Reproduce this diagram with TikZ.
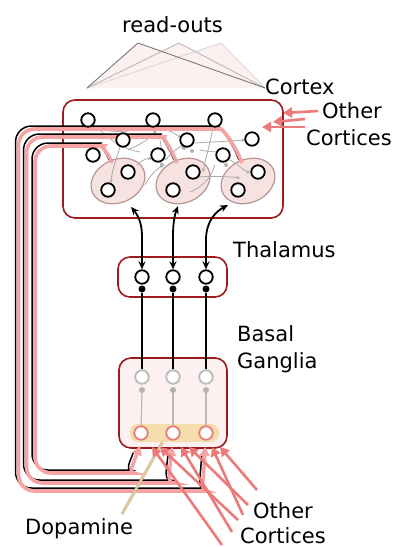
\documentclass[tikz,border=0pt]{standalone}
\usepackage{fontspec}
\setmainfont{DejaVu Sans}
\usetikzlibrary{arrows.meta,shapes.geometric}
\definecolor{dred}{HTML}{9E1B1B}
\definecolor{lpink}{HTML}{F5A3A3}
\definecolor{salm}{HTML}{EC7A7A}
\definecolor{ellf}{HTML}{F6E2E0}
\definecolor{elld}{HTML}{B89494}
\definecolor{bgf}{HTML}{FCF0F0}
\definecolor{dopa}{HTML}{F6DDAE}
\definecolor{dopal}{HTML}{EBCB90}
\definecolor{rofill}{HTML}{FCF1F0}
\begin{document}
\begin{tikzpicture}[x=1pt,y=-1pt,
 neuron/.style={circle,draw=black,line width=1.8pt,fill=white,minimum size=13.5pt,inner sep=0pt},
 gneuron/.style={neuron,draw=gray!55},
 sneuron/.style={neuron,draw=salm},
 sdot/.style={circle,fill=black,minimum size=7pt,inner sep=0pt},
 gdot/.style={circle,fill=gray!60,minimum size=6pt,inner sep=0pt},
 smalldot/.style={circle,fill=gray!60,minimum size=4pt,inner sep=0pt},
 region/.style={rectangle,draw=dred,line width=1.6pt,rounded corners=12pt,inner sep=0pt},
 lbl/.style={font=\fontsize{21}{24}\selectfont,inner sep=0pt,anchor=base west},
 blk/.style={black,line width=1.5pt,rounded corners=16pt},
 pnk/.style={lpink,line width=3.6pt,rounded corners=16pt},
 gconn/.style={gray!65,line width=0.8pt,-{Stealth[length=3.5pt,width=3.5pt]}},
 gline/.style={gray!65,line width=0.8pt},
 clus/.style={ellipse,draw=elld,line width=1.2pt,fill=ellf,minimum width=56pt,minimum height=43pt,inner sep=0pt},
 oc/.style={salm,line width=2.6pt,-{Triangle[length=9pt,width=10pt]}},
 looparr/.style={-{Triangle[length=9pt,width=10pt]}},
 tarr/.style={black,line width=1.8pt,{Stealth[length=8pt,width=7pt]}-{Stealth[length=8pt,width=7pt]}},
]
\fill[white] (0,0) rectangle (395,547);
\useasboundingbox (0,0) rectangle (395,547);

% read-outs
\coordinate (ro) at (87,88);
\coordinate (cx) at (265,88);
\coordinate (ap1) at (138,43);
\coordinate (ap2) at (179,43);
\coordinate (ap3) at (221,43);
\fill[rofill] (ro) -- (ap1) -- (cx) -- cycle;
\fill[rofill] (ro) -- (ap2) -- (cx) -- cycle;
\fill[rofill] (ro) -- (ap3) -- (cx) -- cycle;
\draw[gray!30,line width=0.9pt] (ro) -- (ap3) -- (cx);
\draw[gray!55,line width=0.9pt] (ro) -- (ap2) -- (cx);
\draw[gray!95!black,line width=0.9pt] (ro) -- (ap1) -- (cx);

% labels
\node[lbl] (lro) at (122,32) {read-outs};
\node[lbl] (lcx) at (265,94) {Cortex};
\node[lbl] (loc1) at (322,118) {Other};
\node[lbl] (loc2) at (306,145) {Cortices};
\node[lbl] (lth) at (233,257) {Thalamus};
\node[lbl] (lbg1) at (237,341) {Basal};
\node[lbl] (lbg2) at (237,368) {Ganglia};
\node[lbl] (ldp) at (25,534) {Dopamine};
\node[lbl] (loc3) at (253,518) {Other};
\node[lbl] (loc4) at (240,543) {Cortices};

% regions
\node[region,fill=white,minimum width=220pt,minimum height=118pt] (ctx) at (173,159) {};
\node[region,fill=white,minimum width=109pt,minimum height=40pt] (thal) at (172.5,277) {};
\node[region,fill=bgf,minimum width=108pt,minimum height=90pt] (bg) at (173,403) {};
\node[rectangle,rounded corners=8pt,fill=dopa,minimum width=89pt,minimum height=18pt,inner sep=0pt] (db) at (174.5,433) {};

% clusters
\node[clus,rotate=25] (e1) at (118,181) {};
\node[clus,rotate=25] (e2) at (183,181) {};
\node[clus,rotate=25] (e3) at (248,181) {};

% gray intra-cortical connections
\draw[gconn] (96,127) .. controls (110,134) and (135,132) .. (148,125);
\draw[gconn] (120,147) .. controls (116,160) and (112,170) .. (111,183);
\draw[gconn] (137,165) .. controls (142,160) and (147,158) .. (152,159);
\draw[gconn] (128,150) .. controls (136,146) and (150,140) .. (156,130);
\draw[gconn] (160,127) .. controls (168,130) and (176,134) .. (181,138);
\draw[gconn] (195,143) .. controls (212,142) and (232,141) .. (245,140);
\draw[gconn] (213,127) .. controls (210,145) and (205,160) .. (203,172);
\draw[gline] (100,130) .. controls (110,140) and (125,150) .. (140,152);
\draw[gconn] (165,160) .. controls (175,150) and (180,146) .. (185,146);
\draw[gconn] (145,185) .. controls (150,175) and (158,168) .. (164,165);
\draw[gconn] (230,160) .. controls (240,165) and (245,172) .. (250,172);
\draw[gconn] (200,150) .. controls (210,152) and (218,152) .. (222,152);
\draw[gline] (215,165) .. controls (212,175) and (206,185) .. (190,192);
\draw[gconn] (188,178) .. controls (200,176) and (225,176) .. (240,178);
\draw[gline] (160,140) .. controls (162,150) and (162,160) .. (160,168);
\node[smalldot] (gd1) at (184,148) {};
\node[smalldot] (gd2) at (192,151) {};
\node[smalldot] (gd3) at (162,165) {};
\node[smalldot] (gd4) at (226,165) {};

% loops: black shadows
\begin{scope}[shift={(-3,-3)}]
\draw[blk,shorten >=9pt] (112,163) .. controls (108,152) and (100,146) .. (88,146) -- (35,146) -- (35,473) -- (118,473) .. controls (128,473) and (134,462) .. (140,446);
\draw[blk,shorten >=9pt] (177,163) .. controls (170,146) and (162,137) .. (148,137) -- (26.5,137) -- (26.5,483) -- (158,483) .. controls (166,483) and (170,470) .. (172,447);
\draw[blk,shorten >=9pt] (242,163) .. controls (234,142) and (222,129) .. (205,129) -- (18.5,129) -- (18.5,491) -- (190,491) .. controls (200,491) and (204,478) .. (205,447);
\end{scope}
% loops: pink
\coordinate (e1t) at (112,163);
\coordinate (e2t) at (177,163);
\coordinate (e3t) at (242,163);
\coordinate (s1b) at (140,446);
\coordinate (s2b) at (172,447);
\coordinate (s3b) at (205,447);
\draw[pnk,looparr] (e1t) .. controls (108,152) and (100,146) .. (88,146) -- (35,146) -- (35,473) -- (118,473) .. controls (128,473) and (134,462) .. (s1b);
\draw[pnk,looparr] (e2t) .. controls (170,146) and (162,137) .. (148,137) -- (26.5,137) -- (26.5,483) -- (158,483) .. controls (166,483) and (170,470) .. (s2b);
\draw[pnk,looparr] (e3t) .. controls (234,142) and (222,129) .. (205,129) -- (18.5,129) -- (18.5,491) -- (190,491) .. controls (200,491) and (204,478) .. (s3b);

% cortex neurons
\node[neuron] (c1) at (88,120) {};
\node[neuron] (c2) at (153,120) {};
\node[neuron] (c3) at (215,120) {};
\node[neuron] (c4) at (123,140) {};
\node[neuron] (c5) at (187,140) {};
\node[neuron] (c6) at (252,139) {};
\node[neuron] (c7) at (93,155) {};
\node[neuron] (c8) at (158,155) {};
\node[neuron] (c9) at (223,155) {};
\node[neuron] (k1) at (128,172) {};
\node[neuron] (k2) at (108,190) {};
\node[neuron] (k3) at (193,172) {};
\node[neuron] (k4) at (173,190) {};
\node[neuron] (k5) at (258,172) {};
\node[neuron] (k6) at (238,190) {};

% other cortices (top)
\coordinate (ot1) at (318,111);
\coordinate (oh1) at (283,113);
\coordinate (ot2) at (305,119);
\coordinate (oh2) at (273,122);
\coordinate (ot3) at (305,127);
\coordinate (oh3) at (262,127);
\draw[oc] (ot1) -- (oh1);
\draw[oc] (ot2) -- (oh2);
\draw[oc] (ot3) -- (oh3);

% thalamus
\node[neuron] (t1) at (142,277) {};
\node[neuron] (t2) at (173,277) {};
\node[neuron] (t3) at (206,277) {};
\node[sdot] (td1) at (142,289) {};
\node[sdot] (td2) at (173,289) {};
\node[sdot] (td3) at (206,289) {};

% thalamo-cortical arrows
\coordinate (e1b) at (131,207);
\coordinate (e2b) at (178,206);
\coordinate (e3b) at (228,205);
\draw[tarr] (t1.north) -- (142,236) .. controls (142,222) and (137,214) .. (e1b);
\draw[tarr] (t2.north) -- (173,236) .. controls (173,222) and (175,214) .. (e2b);
\draw[tarr] (t3.north) -- (206,240) .. controls (206,222) and (215,212) .. (e3b);

% basal ganglia
\node[gneuron] (g1) at (142,377) {};
\node[gneuron] (g2) at (173,377) {};
\node[gneuron] (g3) at (206,377) {};
\node[gdot] (gg1) at (142,390) {};
\node[gdot] (gg2) at (173,390) {};
\node[gdot] (gg3) at (206,390) {};
\draw[line width=1.6pt] (td1) -- (g1);
\draw[line width=1.6pt] (td2) -- (g2);
\draw[line width=1.6pt] (td3) -- (g3);
\node[sneuron] (s1) at (141,433) {};
\node[sneuron] (s2) at (173,433) {};
\node[sneuron] (s3) at (206,433) {};
\draw[gray!55,line width=1.2pt] (gg1) -- (s1);
\draw[gray!55,line width=1.2pt] (gg2) -- (s2);
\draw[gray!55,line width=1.2pt] (gg3) -- (s3);

% dopamine line
\coordinate (dpe) at (122,514);
\draw[gray!60,line width=2.8pt] ([xshift=-12pt]db.south) -- (dpe);
\draw[dopal,line width=1.8pt] ([xshift=-12pt]db.south) -- (dpe);

% other cortices (bottom)
\draw[oc] (222,545) -- (152,447);
\draw[oc] (238,520) -- (160,447);
\draw[oc] (232,532) -- (181,447);
\draw[oc] (248,505) -- (189,447);
\draw[oc] (243,515) -- (212,447);
\draw[oc] (257,490) -- (220,447);
\end{tikzpicture}
\end{document}
